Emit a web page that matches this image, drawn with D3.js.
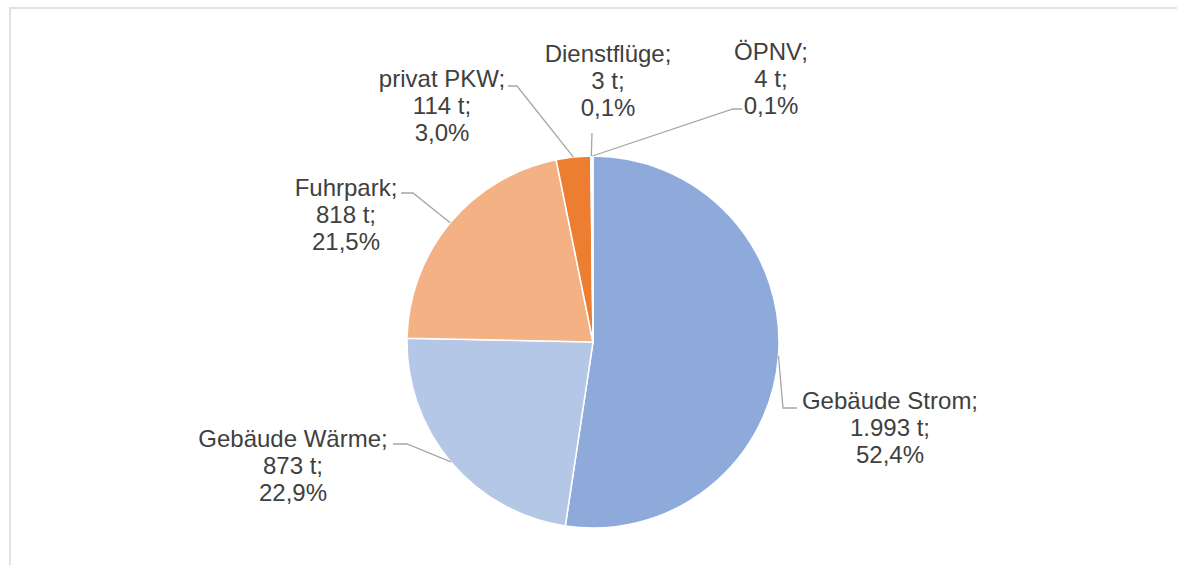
<!DOCTYPE html>
<html>
<head>
  <meta charset="utf-8">
  <title>CO2-Bilanz</title>
  <script src="https://d3js.org/d3.v7.min.js"></script>
  <style>
    body { margin: 0; background: #fff; }
    text { font-family: "Liberation Sans", Arial, sans-serif; }
  </style>
</head>
<body>
  <script>
    // Data
    const categories = ['Gebäude Strom', 'Gebäude Wärme', 'Fuhrpark', 'privat PKW', 'Dienstflüge', 'ÖPNV'];
    const tonnes = [1993, 873, 818, 114, 3, 4];
    const valueLabels = ['1.993 t', '873 t', '818 t', '114 t', '3 t', '4 t'];
    const shareLabels = ['52,4%', '22,9%', '21,5%', '3,0%', '0,1%', '0,1%'];

    // Slice colours
    const colors = ['#8eaadb', '#b4c7e7', '#f4b183', '#ed7d31', '#c55a11', '#843c0c'];

    // Label placement (text centre, first baseline, leader bend and end)
    const labelLayout = [
      { x: 890, y: 409, bend: [783, 408], end: [797, 408] },
      { x: 293, y: 447, bend: [407, 444], end: [393, 444] },
      { x: 346, y: 196, bend: [413, 193], end: [401, 193] },
      { x: 442, y: 87,  bend: [517, 86],  end: [508, 86] },
      { x: 608, y: 62,  bend: [592, 133], end: [592, 133] },
      { x: 771, y: 60,  bend: [733, 109], end: [742, 109] }
    ];

    const width = 1177;
    const height = 565;
    const cx = 593, cy = 342, radius = 186;
    const lineHeight = 27;

    const svg = d3.select('body').append('svg')
      .attr('width', width)
      .attr('height', height);

    // Light frame around the chart area
    svg.append('rect')
      .attr('x', 10)
      .attr('y', 8)
      .attr('width', width + 20)
      .attr('height', height + 20)
      .attr('fill', 'none')
      .attr('stroke', '#e2e2e2')
      .attr('stroke-width', 2);

    const pie = d3.pie().sort(null).value(d => d);
    const arcs = pie(tonnes);
    const arc = d3.arc().innerRadius(0).outerRadius(radius);

    const g = svg.append('g').attr('transform', `translate(${cx},${cy})`);

    g.selectAll('path.slice')
      .data(arcs)
      .enter().append('path')
      .attr('class', 'slice')
      .attr('d', arc)
      .attr('fill', (d, i) => colors[i])
      .attr('stroke', '#fff')
      .attr('stroke-width', 1.5);

    // Leader lines
    const line = d3.line();
    svg.selectAll('path.leader')
      .data(arcs)
      .enter().append('path')
      .attr('class', 'leader')
      .attr('d', (d, i) => {
        const a = (d.startAngle + d.endAngle) / 2;
        const p = [cx + radius * Math.sin(a), cy - radius * Math.cos(a)];
        const l = labelLayout[i];
        return line([p, l.bend, l.end]);
      })
      .attr('fill', 'none')
      .attr('stroke', '#a6a6a6')
      .attr('stroke-width', 1.3);

    // Labels
    const labels = svg.selectAll('text.label')
      .data(categories)
      .enter().append('text')
      .attr('class', 'label')
      .attr('text-anchor', 'middle')
      .attr('font-size', 24)
      .attr('fill', '#404040');

    labels.each(function(name, i) {
      const t = d3.select(this);
      const l = labelLayout[i];
      [name + ';', valueLabels[i] + ';', shareLabels[i]].forEach((s, k) => {
        t.append('tspan')
          .attr('x', l.x)
          .attr('y', l.y + k * lineHeight)
          .text(s);
      });
    });
  </script>
</body>
</html>
